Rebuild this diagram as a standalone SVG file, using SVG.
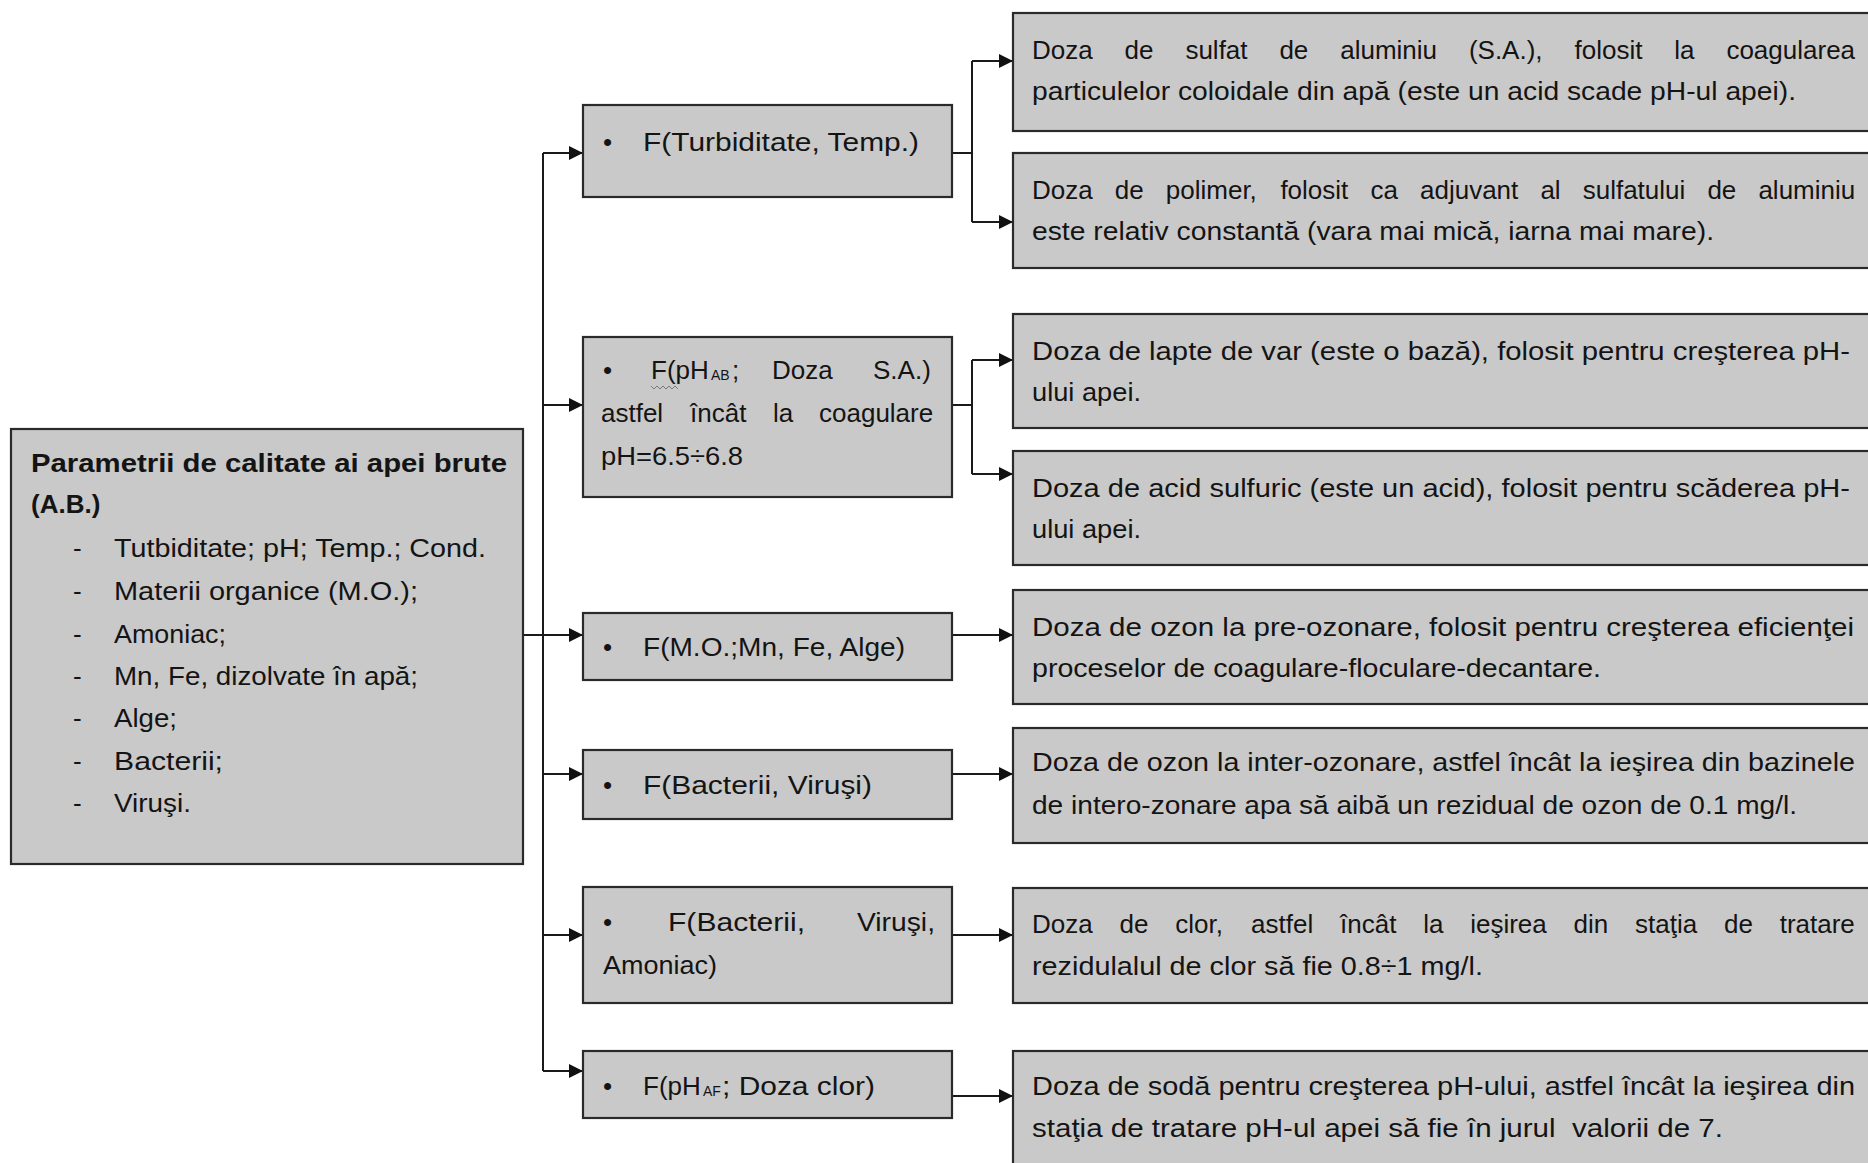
<svg xmlns="http://www.w3.org/2000/svg" width="1868" height="1163" viewBox="0 0 1868 1163">
<style>
.box{fill:#c9c9c9;stroke:#2a2a2a;stroke-width:2.2}
.c{fill:none;stroke:#1a1a1a;stroke-width:2}
.t{font-family:"Liberation Sans",Arial,sans-serif;font-size:26px;fill:#141414}
.b{font-weight:bold}
.s{font-size:14px}
</style>
<defs>
<marker id="ah" viewBox="0 0 14 14" refX="14" refY="7" markerWidth="14" markerHeight="14" markerUnits="userSpaceOnUse" orient="auto">
<path d="M0,0 L14,7 L0,14 z" fill="#111"/>
</marker>
</defs>
<rect width="1868" height="1163" fill="#fff"/>

<g id="connectors">
<path class="c" d="M523,635 H583" marker-end="url(#ah)"/>
<path class="c" d="M543,153 V1071"/>
<path class="c" d="M543,153 H583" marker-end="url(#ah)"/>
<path class="c" d="M543,405 H583" marker-end="url(#ah)"/>
<path class="c" d="M543,774 H583" marker-end="url(#ah)"/>
<path class="c" d="M543,935 H583" marker-end="url(#ah)"/>
<path class="c" d="M543,1071 H583" marker-end="url(#ah)"/>
<path class="c" d="M952,153 H972"/>
<path class="c" d="M972,61 V222"/>
<path class="c" d="M972,61 H1013" marker-end="url(#ah)"/>
<path class="c" d="M972,222 H1013" marker-end="url(#ah)"/>
<path class="c" d="M952,405 H972"/>
<path class="c" d="M972,360 V474"/>
<path class="c" d="M972,360 H1013" marker-end="url(#ah)"/>
<path class="c" d="M972,474 H1013" marker-end="url(#ah)"/>
<path class="c" d="M952,635 H1013" marker-end="url(#ah)"/>
<path class="c" d="M952,774 H1013" marker-end="url(#ah)"/>
<path class="c" d="M952,935 H1013" marker-end="url(#ah)"/>
<path class="c" d="M952,1096 H1013" marker-end="url(#ah)"/>
</g>

<g id="main">
<rect class="box" x="11" y="429" width="512" height="435"/>
<text class="t b" x="31" y="472" textLength="476" lengthAdjust="spacingAndGlyphs">Parametrii de calitate ai apei brute</text>
<text class="t b" x="31" y="513">(A.B.)</text>
<text class="t" x="73" y="557">-</text><text class="t" x="114" y="557" textLength="372" lengthAdjust="spacingAndGlyphs">Tutbiditate; pH; Temp.; Cond.</text>
<text class="t" x="73" y="600">-</text><text class="t" x="114" y="600" textLength="304" lengthAdjust="spacingAndGlyphs">Materii organice (M.O.);</text>
<text class="t" x="73" y="643">-</text><text class="t" x="114" y="643" textLength="112" lengthAdjust="spacingAndGlyphs">Amoniac;</text>
<text class="t" x="73" y="685">-</text><text class="t" x="114" y="685" textLength="304" lengthAdjust="spacingAndGlyphs">Mn, Fe, dizolvate în apă;</text>
<text class="t" x="73" y="727">-</text><text class="t" x="114" y="727" textLength="63" lengthAdjust="spacingAndGlyphs">Alge;</text>
<text class="t" x="73" y="770">-</text><text class="t" x="114" y="770" textLength="109" lengthAdjust="spacingAndGlyphs">Bacterii;</text>
<text class="t" x="73" y="812">-</text><text class="t" x="114" y="812" textLength="77" lengthAdjust="spacingAndGlyphs">Viruşi.</text>
</g>

<g id="f-turbiditate">
<rect class="box" x="583" y="105" width="369" height="92"/>
<text class="t" x="603" y="151">•</text>
<text class="t" x="643" y="151" textLength="276" lengthAdjust="spacingAndGlyphs">F(Turbiditate, Temp.)</text>
</g>

<g id="f-ph-ab">
<rect class="box" x="583" y="337" width="369" height="160"/>
<text class="t" x="603" y="379">•</text>
<text class="t" y="379"><tspan x="651">F(pH</tspan><tspan class="s" x="711" dy="1">AB</tspan><tspan x="732" dy="-1">;</tspan><tspan x="772">Doza</tspan><tspan x="873">S.A.)</tspan></text>
<path d="M651,386 l3,3 l3,-3 l3,3 l3,-3 l3,3 l3,-3 l3,3 l3,-3 l3,3" fill="none" stroke="#7a7a7a" stroke-width="1"/>
<text class="t" y="422"><tspan x="601">astfel</tspan><tspan x="690">încât</tspan><tspan x="773">la</tspan><tspan x="819">coagulare</tspan></text>
<text class="t" x="601" y="465" textLength="142" lengthAdjust="spacingAndGlyphs">pH=6.5÷6.8</text>
</g>

<g id="f-mo">
<rect class="box" x="583" y="613" width="369" height="67"/>
<text class="t" x="603" y="656">•</text>
<text class="t" x="643" y="656" textLength="262" lengthAdjust="spacingAndGlyphs">F(M.O.;Mn, Fe, Alge)</text>
</g>

<g id="f-bacterii">
<rect class="box" x="583" y="750" width="369" height="69"/>
<text class="t" x="603" y="794">•</text>
<text class="t" x="643" y="794" textLength="229" lengthAdjust="spacingAndGlyphs">F(Bacterii, Viruşi)</text>
</g>

<g id="f-bacterii-amoniac">
<rect class="box" x="583" y="887" width="369" height="116"/>
<text class="t" x="603" y="931">•</text>
<text class="t" y="931"><tspan x="668" textLength="137" lengthAdjust="spacingAndGlyphs">F(Bacterii,</tspan><tspan x="857" textLength="78" lengthAdjust="spacingAndGlyphs">Viruşi,</tspan></text>
<text class="t" x="603" y="974" textLength="114" lengthAdjust="spacingAndGlyphs">Amoniac)</text>
</g>

<g id="f-ph-af">
<rect class="box" x="583" y="1051" width="369" height="67"/>
<text class="t" x="603" y="1095">•</text>
<text class="t" y="1095"><tspan x="643">F(pH</tspan><tspan class="s" x="703" dy="1">AF</tspan><tspan x="722" dy="-1" textLength="153" lengthAdjust="spacingAndGlyphs">; Doza clor)</tspan></text>
</g>

<g id="r-sulfat">
<rect class="box" x="1013" y="13" width="900" height="118"/>
<text class="t" y="59"><tspan x="1032">Doza</tspan><tspan x="1124.6">de</tspan><tspan x="1185.4">sulfat</tspan><tspan x="1279.4">de</tspan><tspan x="1340.2">aluminiu</tspan><tspan x="1468.9">(S.A.),</tspan><tspan x="1574.5">folosit</tspan><tspan x="1674.3">la</tspan><tspan x="1726.4">coagularea</tspan></text>
<text class="t" x="1032" y="100" textLength="764" lengthAdjust="spacingAndGlyphs">particulelor coloidale din apă (este un acid scade pH-ul apei).</text>
</g>

<g id="r-polimer">
<rect class="box" x="1013" y="153" width="900" height="115"/>
<text class="t" y="199"><tspan x="1032">Doza</tspan><tspan x="1114.8">de</tspan><tspan x="1165.8">polimer,</tspan><tspan x="1280.4">folosit</tspan><tspan x="1370.4">ca</tspan><tspan x="1420">adjuvant</tspan><tspan x="1540.4">al</tspan><tspan x="1582.7">sulfatului</tspan><tspan x="1707.4">de</tspan><tspan x="1758.4">aluminiu</tspan></text>
<text class="t" x="1032" y="240" textLength="682" lengthAdjust="spacingAndGlyphs">este relativ constantă (vara mai mică, iarna mai mare).</text>
</g>

<g id="r-lapte">
<rect class="box" x="1013" y="314" width="900" height="114"/>
<text class="t" x="1032" y="360" textLength="818" lengthAdjust="spacingAndGlyphs">Doza de lapte de var (este o bază), folosit pentru creşterea pH-</text>
<text class="t" x="1032" y="401" textLength="109" lengthAdjust="spacingAndGlyphs">ului apei.</text>
</g>

<g id="r-acid">
<rect class="box" x="1013" y="451" width="900" height="114"/>
<text class="t" x="1032" y="497" textLength="818" lengthAdjust="spacingAndGlyphs">Doza de acid sulfuric (este un acid), folosit pentru scăderea pH-</text>
<text class="t" x="1032" y="538" textLength="109" lengthAdjust="spacingAndGlyphs">ului apei.</text>
</g>

<g id="r-preozonare">
<rect class="box" x="1013" y="590" width="900" height="114"/>
<text class="t" x="1032" y="636" textLength="822" lengthAdjust="spacingAndGlyphs">Doza de ozon la pre-ozonare, folosit pentru creşterea eficienţei</text>
<text class="t" x="1032" y="677" textLength="569" lengthAdjust="spacingAndGlyphs">proceselor de coagulare-floculare-decantare.</text>
</g>

<g id="r-interozonare">
<rect class="box" x="1013" y="728" width="900" height="115"/>
<text class="t" x="1032" y="771" textLength="823" lengthAdjust="spacingAndGlyphs">Doza de ozon la inter-ozonare, astfel încât la ieşirea din bazinele</text>
<text class="t" x="1032" y="814" textLength="765" lengthAdjust="spacingAndGlyphs">de intero-zonare apa să aibă un rezidual de ozon de 0.1 mg/l.</text>
</g>

<g id="r-clor">
<rect class="box" x="1013" y="888" width="900" height="115"/>
<text class="t" y="933"><tspan x="1032">Doza</tspan><tspan x="1119.5">de</tspan><tspan x="1175.2">clor,</tspan><tspan x="1251.1">astfel</tspan><tspan x="1340">încât</tspan><tspan x="1423.2">la</tspan><tspan x="1470.2">ieşirea</tspan><tspan x="1573.6">din</tspan><tspan x="1635.1">staţia</tspan><tspan x="1724">de</tspan><tspan x="1779.7">tratare</tspan></text>
<text class="t" x="1032" y="975" textLength="451" lengthAdjust="spacingAndGlyphs">rezidulalul de clor să fie 0.8÷1 mg/l.</text>
</g>

<g id="r-soda">
<rect class="box" x="1013" y="1051" width="900" height="130"/>
<text class="t" x="1032" y="1095" textLength="823" lengthAdjust="spacingAndGlyphs">Doza de sodă pentru creşterea pH-ului, astfel încât la ieşirea din</text>
<text class="t" x="1032" y="1137" textLength="691" lengthAdjust="spacingAndGlyphs" style="white-space:pre">staţia de tratare pH-ul apei să fie în jurul  valorii de 7.</text>
</g>
</svg>
